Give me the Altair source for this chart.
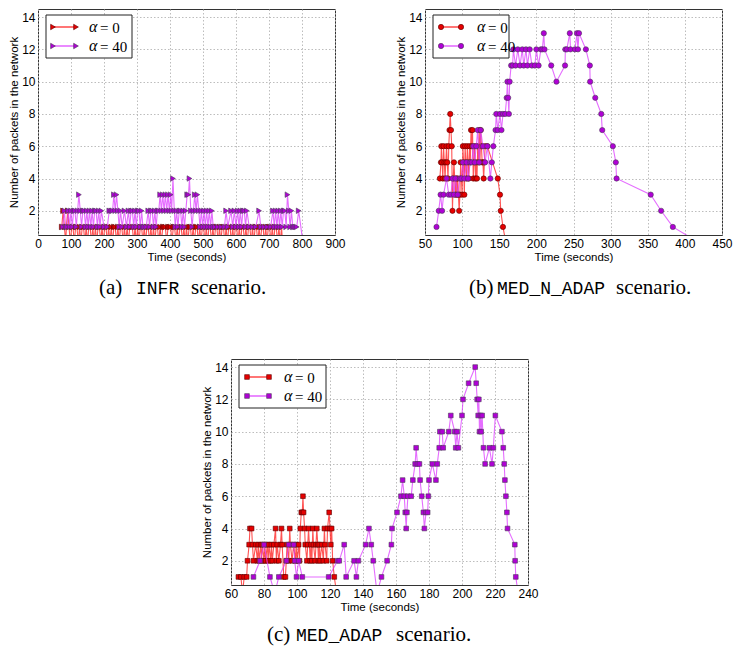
import altair as alt
import pandas as pd

# ---------------- data ----------------
# (a) INFR scenario
infr_t0 = [72, 76, 80, 84, 86, 90, 94, 98, 102, 106, 110, 114, 118, 122, 126, 130, 134, 138, 142, 146,
           150, 154, 158, 162, 166, 170, 174, 178, 182, 186, 190, 194, 198, 202, 206, 210, 214, 218, 222, 226,
           230, 234, 238, 242, 246, 250, 254, 258, 262, 266, 270, 274, 278, 282, 286, 290, 294, 298, 302, 306,
           310, 314, 318, 322, 326, 330, 334, 338, 342, 346, 350, 354, 358, 362, 366, 370, 374, 378, 382, 386,
           390, 394, 398, 402, 406, 410, 414, 418, 422, 426, 430, 434, 438, 442, 446, 450, 454, 458, 462, 466,
           470, 474, 478, 482, 486, 490, 494, 498, 502, 506, 510, 514, 518, 522, 526, 530, 534, 538, 542, 546,
           550, 554, 558, 562, 566, 570, 574, 578, 582, 586, 590, 594, 598, 602, 606, 610, 614, 618, 622, 626,
           630, 634, 638, 642, 646, 650, 654, 658, 662, 666, 670, 674, 678, 682, 686, 690, 694, 698, 702, 706,
           710, 714, 718, 722, 726, 730, 734, 738, 741]
infr_n0 = [1, 2, 1, 0, 1, 2, 1, 0, 1, 1, 0, 1, 1, 0, 1, 0, 1, 1, 0, 1,
           0, 1, 1, 0, 1, 0, 1, 0, 1, 1, 0, 1, 0, 1, 1, 0, 1, 0, 1, 0,
           1, 1, 0, 1, 0, 1, 1, 0, 1, 0, 1, 0, 1, 1, 1, 0, 1, 0, 1, 0,
           1, 1, 0, 1, 0, 1, 1, 0, 1, 0, 1, 0, 1, 1, 0, 1, 0, 1, 1, 1,
           0, 1, 1, 1, 0, 1, 1, 0, 1, 0, 1, 1, 0, 1, 0, 1, 0, 1, 1, 0,
           1, 0, 1, 1, 0, 1, 0, 1, 1, 0, 1, 0, 1, 1, 0, 1, 0, 1, 1, 0,
           1, 0, 1, 1, 0, 1, 0, 1, 1, 0, 1, 0, 1, 1, 0, 1, 0, 1, 1, 0,
           1, 0, 1, 1, 0, 1, 0, 1, 1, 0, 1, 0, 1, 1, 0, 1, 0, 1, 1, 0,
           1, 0, 1, 1, 0, 1, 0, 1, 0]
infr_t40 = [75, 80, 84, 88, 92, 96, 100, 104, 108, 112, 116, 120, 124, 128, 132, 136, 140, 144, 148, 152,
            156, 160, 164, 168, 172, 176, 180, 184, 188, 192, 200, 210, 216, 222, 226, 230, 234, 238, 242, 246,
            250, 255, 262, 268, 274, 278, 282, 286, 290, 294, 298, 302, 306, 310, 314, 318, 322, 328, 334, 338,
            342, 346, 350, 354, 358, 362, 366, 370, 374, 378, 382, 386, 390, 394, 398, 402, 405, 409, 413, 416,
            420, 424, 428, 432, 436, 440, 444, 448, 452, 456, 459, 463, 467, 471, 475, 479, 483, 487, 491, 495,
            499, 503, 507, 511, 515, 519, 523, 527, 531, 536, 545, 555, 565, 570, 575, 585, 590, 595, 600, 605,
            609, 613, 617, 621, 625, 629, 633, 640, 650, 660, 670, 675, 685, 695, 705, 712, 716, 720, 724, 728,
            732, 736, 740, 744, 748, 752, 756, 760, 764, 768, 772, 776, 780, 784, 790, 803]
infr_n40 = [1, 2, 1, 1, 2, 1, 2, 1, 2, 2, 1, 2, 3, 2, 1, 2, 2, 1, 2, 1,
            2, 1, 2, 1, 2, 2, 1, 2, 1, 2, 1, 1, 2, 2, 2, 3, 2, 3, 2, 1,
            2, 1, 2, 1, 2, 1, 2, 2, 1, 2, 1, 2, 2, 1, 2, 1, 1, 1, 2, 1,
            2, 2, 1, 2, 1, 2, 2, 3, 2, 3, 2, 3, 2, 3, 2, 3, 2, 4, 2, 1,
            2, 1, 2, 2, 1, 2, 1, 2, 3, 3, 4, 2, 1, 2, 3, 2, 3, 2, 1, 2,
            1, 2, 1, 2, 1, 2, 1, 2, 1, 1, 1, 1, 1, 2, 1, 2, 1, 2, 1, 2,
            1, 2, 1, 2, 2, 1, 2, 1, 1, 1, 2, 1, 1, 1, 1, 2, 1, 2, 1, 2,
            1, 2, 1, 2, 2, 1, 3, 2, 1, 2, 1, 1, 1, 1, 2, 0]

# (b) MED_N_ADAP scenario
mna_t0 = [70, 71.5, 72, 73, 74, 75, 76, 77, 78, 79, 80, 81, 82, 83, 84, 85, 86, 87, 88, 89,
          91, 92, 93, 94, 95, 96, 97, 98, 99, 100, 101, 102, 103, 104, 105, 106, 107, 108, 109, 110,
          111, 112, 113, 114, 115, 116, 117, 118, 119, 120, 121, 122, 123, 124, 125, 126, 127, 128, 129, 130,
          131, 134, 148, 151, 152, 155, 159]
mna_n0 = [4, 5, 6, 5, 4, 6, 5, 4, 5, 6, 5, 4, 6, 7, 8, 7, 6, 2, 4, 5,
          3, 4, 3, 4, 3, 2, 3, 5, 4, 3, 6, 5, 3, 6, 5, 4, 6, 5, 4, 6,
          5, 7, 6, 7, 4, 5, 6, 4, 5, 4, 6, 5, 7, 5, 7, 6, 5, 5, 4, 5,
          6, 6, 4, 3, 2, 1, 0]
mna_t40 = [65.5, 68.5, 71, 73, 75, 79, 82, 85, 87, 89, 91, 94, 97, 99, 101, 103, 106, 108, 111, 113,
           115, 117, 119, 121, 123, 125, 128, 131, 134, 138, 140, 142, 145, 146, 148, 151, 153, 155, 158, 160,
           161, 162, 163, 164, 166, 168, 169, 172, 175, 178, 181, 183, 186, 188, 191, 194, 198, 200, 203, 206,
           208, 210, 211, 220, 227, 238.6, 239, 241, 245, 246, 252, 254.7, 256, 257.4, 266.7, 272, 272.4, 279.3, 287.4, 288.7,
           303, 307, 308, 354, 368, 383.8, 420]
mna_n40 = [1, 2, 3, 2, 3, 4, 3, 3, 4, 3, 4, 3, 4, 4, 5, 4, 5, 4, 5, 5,
           6, 5, 6, 7, 5, 7, 6, 5, 6, 4, 5, 6, 7, 8, 7, 8, 7, 8, 8, 9,
           10, 9, 8, 10, 11, 11, 12, 11, 12, 11, 12, 11, 12, 11, 12, 11, 11, 12, 11, 12,
           12, 13, 12, 11, 10, 11, 12, 12, 13, 12, 12, 13, 12, 13, 12, 11, 10, 9, 8, 7,
           6, 5, 4, 3, 2, 1, 0]

# (c) MED_ADAP scenario
ma_t0 = [64.5, 66, 67, 68, 69.5, 70, 71, 71.5, 72.5, 73, 73.6, 75, 76, 76.5, 77, 78, 78.5, 79, 80, 80.5,
         81, 82, 82.5, 83, 84, 84.5, 85, 86, 87, 87.5, 88, 89, 90, 90.6, 91, 92, 93, 93.5, 94, 95,
         95.6, 96, 97, 98, 99, 99.5, 100, 101, 101.5, 102, 102.6, 103.2, 103.6, 104, 104.6, 105, 106, 106.5, 107, 108,
         108.5, 109, 109.6, 110, 111, 111.5, 112, 112.6, 113, 113.5, 114, 115, 116, 116.6, 117, 118, 118.5, 119.5, 120, 120.5,
         121, 121.6, 122.6, 124]
ma_n0 = [1, 1, 0, 1, 1, 2, 3, 4, 4, 3, 2, 3, 2, 3, 2, 3, 2, 3, 2, 3,
         2, 3, 2, 3, 2, 3, 2, 3, 4, 2, 3, 2, 3, 4, 3, 1, 1, 2, 3, 2,
         4, 3, 2, 3, 2, 3, 2, 3, 2, 4, 5, 5, 6, 5, 4, 3, 2, 3, 4, 2,
         3, 2, 4, 3, 2, 3, 4, 3, 2, 3, 2, 3, 2, 4, 3, 2, 4, 5, 4, 3,
         4, 2, 1, 0]
ma_t40 = [73.6, 77.6, 80, 83.6, 86.5, 89, 93.6, 95, 98, 98.6, 99.7, 101, 103.2, 119.2, 124.6, 125.6, 128.6, 129.8, 134.6, 136,
          137.2, 141.6, 143.6, 145, 146.2, 148.5, 151.2, 154.6, 157.2, 157.6, 160.6, 163, 164, 165, 165.6, 166.2, 166.6, 167.2, 169.2, 170.2,
          171.6, 172.2, 173, 174.2, 174.6, 175.6, 176.6, 177.2, 178.2, 179.2, 179.6, 180, 182, 184.2, 185, 186.2, 186.6, 188, 188.6, 192,
          193.2, 195.6, 196.2, 197, 197.8, 200, 200.6, 204, 208, 208.6, 209.2, 209.8, 210.2, 210.6, 211.2, 211.6, 212.2, 213, 214, 216.6,
          218.2, 219, 220.2, 224.2, 225, 225.6, 226, 226.6, 227.2, 227.6, 232, 232.2, 232.6, 234]
ma_n40 = [1, 2, 3, 1, 0, 1, 2, 3, 3, 2, 1, 2, 1, 1, 2, 2, 3, 1, 2, 1,
          2, 3, 4, 3, 2, 0, 1, 2, 3, 4, 5, 6, 7, 6, 5, 4, 5, 6, 6, 7,
          8, 9, 8, 8, 7, 6, 5, 4, 5, 5, 6, 7, 8, 7, 8, 9, 10, 10, 9, 10,
          11, 10, 9, 10, 9, 11, 12, 13, 14, 13, 12, 11, 12, 10, 11, 10, 11, 9, 8, 9,
          8, 9, 11, 10, 9, 8, 7, 6, 5, 4, 3, 2, 1, 0]

y_ticks = [2, 4, 6, 8, 10, 12, 14]

# ---------------- style ----------------
W, H = 297, 226
RED_LINE, RED_FILL, RED_EDGE = "#ff1a1a", "#e60000", "#5a0000"
PUR_LINE, PUR_FILL, PUR_EDGE = "#dc3cff", "#b000d6", "#4a3a55"
ONE = alt.Data(values=[{}])


def series_layers(t, n, shape, size, line_c, fill_c, edge_c, xs, ys, xaxis, yaxis):
    df = pd.DataFrame({"t": t, "n": n, "i": list(range(len(t)))})
    base = alt.Chart(df).encode(
        x=alt.X("t:Q", scale=xs, axis=xaxis),
        y=alt.Y("n:Q", scale=ys, axis=yaxis),
    )
    line = base.mark_line(clip=True, color=line_c, strokeWidth=1.1, opacity=0.75).encode(order="i:Q")
    pts = base.mark_point(clip=True, shape=shape, size=size, filled=True, fill=fill_c,
                          stroke=edge_c, strokeWidth=0.6, opacity=1)
    return [line, pts]


def legend_layers(box, lx, rows, tx, shape, size, box_right):
    layers = [alt.Chart(ONE).mark_rect(fill="white", stroke="#222222", strokeWidth=1).encode(
        x=alt.value(box[0]), x2=alt.value(box_right), y=alt.value(box[1]), y2=alt.value(box[2]))]
    specs = [(RED_LINE, RED_FILL, RED_EDGE, "= 0"), (PUR_LINE, PUR_FILL, PUR_EDGE, "= 40")]
    for (lc, fc, ec, label), ry in zip(specs, rows):
        layers.append(alt.Chart(ONE).mark_rule(color=lc, strokeWidth=1.2).encode(
            x=alt.value(lx[0]), x2=alt.value(lx[1]), y=alt.value(ry)))
        for px in lx:
            layers.append(alt.Chart(ONE).mark_point(shape=shape, size=size, filled=True, fill=fc,
                                                    stroke=ec, strokeWidth=0.6, opacity=1).encode(
                x=alt.value(px), y=alt.value(ry)))
        layers.append(alt.Chart(ONE).mark_text(align="left", baseline="middle", font="Liberation Serif",
                                               fontSize=16, fontStyle="italic").encode(
            x=alt.value(tx), y=alt.value(ry), text=alt.value("α")))
        layers.append(alt.Chart(ONE).mark_text(align="left", baseline="middle", font="Liberation Serif",
                                               fontSize=15).encode(
            x=alt.value(tx + 11), y=alt.value(ry + 1), text=alt.value(label)))
    return layers


def caption_layers(parts, xs_pos, base_y):
    fonts = [("Liberation Serif", 21), ("Liberation Mono", 18), ("Liberation Serif", 21)]
    out = []
    for txt, px, (f, fs) in zip(parts, xs_pos, fonts):
        out.append(alt.Chart(ONE).mark_text(align="left", baseline="alphabetic", font=f, fontSize=fs,
                                            color="black").encode(
            x=alt.value(px), y=alt.value(base_y), text=alt.value(txt)))
    return out


def panel(t0, n0, t40, n40, shape, size, xdomain, xticks, box_right, lx, tx, cap, cap_x, cap_y):
    xs = alt.Scale(domain=xdomain, nice=False, zero=False)
    ys = alt.Scale(domain=[0.5, 14.5], nice=False, zero=False)
    xaxis = alt.Axis(values=xticks, title="Time (seconds)", format="d", labelFlush=False, labelOverlap=False)
    yaxis = alt.Axis(values=y_ticks, title="Number of packets in the network", format="d",
                     labelFlush=False, labelOverlap=False)
    layers = []
    layers += series_layers(t0, n0, shape, size, RED_LINE, RED_FILL, RED_EDGE, xs, ys, xaxis, yaxis)
    layers += series_layers(t40, n40, shape, size, PUR_LINE, PUR_FILL, PUR_EDGE, xs, ys, xaxis, yaxis)
    layers += legend_layers((8, 6, 49), lx, (18, 37), tx, shape, size, box_right)
    layers += caption_layers(cap, cap_x, cap_y)
    return alt.layer(*layers).properties(width=W, height=H)


pa = panel(infr_t0, infr_n0, infr_t40, infr_n40, "triangle-right", 30, [0, 900],
           list(range(0, 901, 100)), 94, (15, 38), 51,
           ["(a)", "INFR", "scenario."], [61, 98, 153], H + 59)
pb = panel(mna_t0, mna_n0, mna_t40, mna_n40, "circle", 28, [50, 450],
           list(range(50, 451, 50)), 84, (16, 36), 52,
           ["(b)", "MED_N_ADAP", "scenario."], [44, 72, 191], H + 59)
pc = panel(ma_t0, ma_n0, ma_t40, ma_n40, "square", 22, [60, 240],
           list(range(60, 241, 20)), 95, (16, 38), 53,
           ["(c)", "MED_ADAP", "scenario."], [36, 65, 165], H + 56)

spacer = alt.Chart(ONE).mark_point(opacity=0).encode(
    x=alt.value(0), y=alt.value(0)).properties(width=193, height=10,
                                               view=alt.ViewBackground(stroke="transparent"))

top = alt.hconcat(pa, pb, spacing=90, bounds="flush")
bottom = alt.hconcat(spacer, pc, spacing=0, bounds="flush")

chart = alt.vconcat(top, bottom, spacing=350, bounds="flush").properties(
    padding={"left": 0, "top": 0, "right": 0, "bottom": 0}
).configure_view(
    stroke="#333333", strokeWidth=1
).configure_axis(
    labelFont="Liberation Sans", labelFontSize=12, labelColor="black",
    titleFont="Liberation Sans", titleFontSize=11.5, titleFontWeight="normal", titleColor="black",
    grid=True, gridColor="#b5b5b5", gridDash=[1.5, 2], gridWidth=0.9,
    domain=False, ticks=False, labelPadding=3,
).configure_axisLeft(titlePadding=2, labelPadding=3).configure_axisBottom(titlePadding=2, labelPadding=3)

chart.save("out.html", embed_options={"renderer": "svg", "actions": False})
